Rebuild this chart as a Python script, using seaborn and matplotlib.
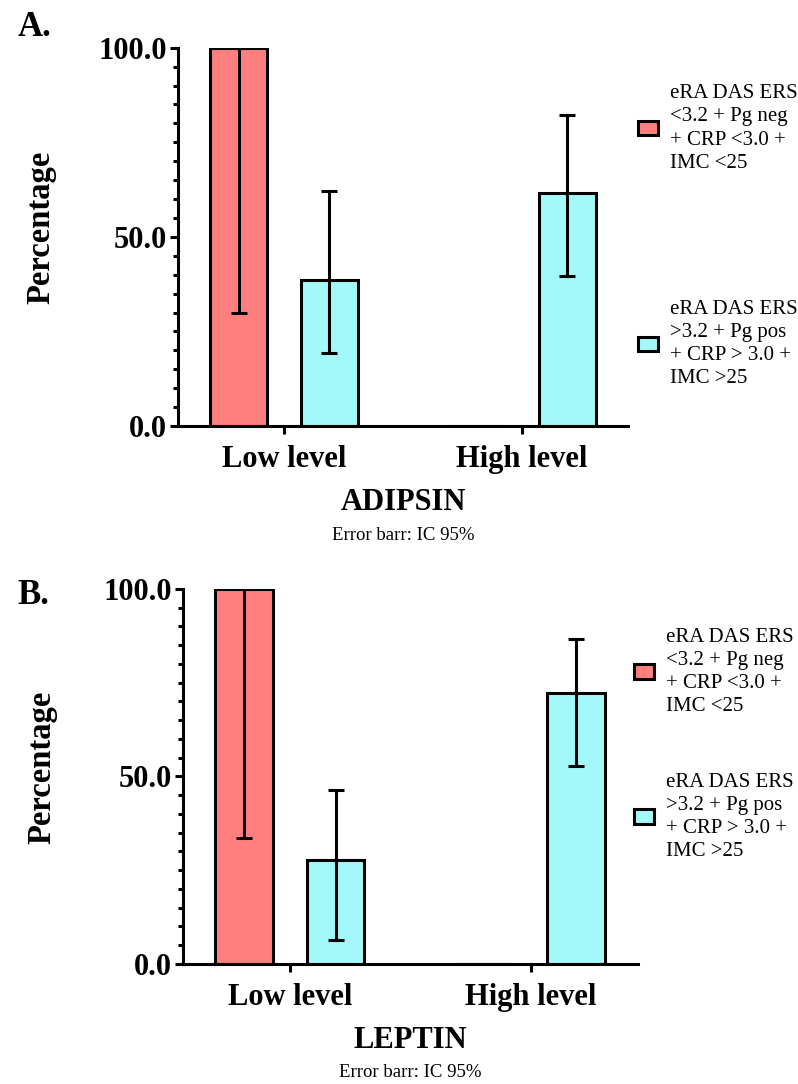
#!/usr/bin/env python3
"""
ADIPSIN / LEPTIN 百分比柱状图 (带 95% 置信区间误差线)
"""

import numpy as np
import pandas as pd
import matplotlib
matplotlib.use('Agg')
import matplotlib.pyplot as plt
from matplotlib.ticker import MultipleLocator, FormatStrFormatter
import seaborn as sns

# 数据
levels = ['Low level', 'High level']
groups = [
    'eRA DAS ERS\n<3.2 + Pg neg\n+ CRP <3.0 +\nIMC <25',
    'eRA DAS ERS\n>3.2 + Pg pos\n+ CRP > 3.0 +\nIMC >25',
]

adipsin_g1 = [100.0, 0.0]
adipsin_g2 = [38.5, 61.5]
adipsin_g1_ci_low = [30.0, np.nan]
adipsin_g1_ci_high = [100.0, np.nan]
adipsin_g2_ci_low = [19.3, 39.7]
adipsin_g2_ci_high = [62.0, 82.3]

leptin_g1 = [100.0, 0.0]
leptin_g2 = [27.8, 72.2]
leptin_g1_ci_low = [33.6, np.nan]
leptin_g1_ci_high = [100.0, np.nan]
leptin_g2_ci_low = [6.4, 52.8]
leptin_g2_ci_high = [46.4, 86.7]

# 配色 / 字体
COLORS = ['#FF7F7F', '#A3F9F9']
LW = 2.2
SERIF = ['Liberation Serif', 'DejaVu Serif']

sns.set_style('white')
plt.rcParams['font.family'] = SERIF
plt.rcParams['font.serif'] = SERIF
for key in ['text.color', 'axes.labelcolor', 'xtick.color', 'ytick.color',
            'axes.edgecolor']:
    plt.rcParams[key] = 'black'


def draw_panel(fig, rect, vals1, vals2, ci1, ci2, letter, letter_y, title,
               ylabel_x, legend_anchor, labelspacing):
    ax = fig.add_axes(rect)

    df = pd.DataFrame({
        'level': levels * 2,
        'group': [groups[0]] * 2 + [groups[1]] * 2,
        'pct': list(vals1) + list(vals2),
    })

    sns.barplot(
        data=df, x='level', y='pct', hue='group',
        order=levels, hue_order=groups,
        palette=COLORS, saturation=1,
        errorbar=None, width=0.76, gap=0.37,
        edgecolor='black', linewidth=LW,
        legend=False, ax=ax
    )

    # 误差线 (IC 95%)
    for container, (lo, hi), vals in zip(ax.containers, [ci1, ci2], [vals1, vals2]):
        xs = [p.get_x() + p.get_width() / 2 for p in container.patches]
        vals = np.array(vals)
        lo = np.array(lo)
        hi = np.array(hi)
        ax.errorbar(
            xs, vals, yerr=[vals - lo, hi - vals],
            fmt='none', ecolor='black', elinewidth=LW,
            capsize=6, capthick=LW, zorder=5
        )

    ax.set_xlim(-0.445, 1.445)
    ax.set_ylim(0, 100)
    ax.yaxis.set_major_locator(MultipleLocator(50))
    ax.yaxis.set_minor_locator(MultipleLocator(5))
    ax.yaxis.set_major_formatter(FormatStrFormatter('%.1f'))

    for side in ['top', 'right']:
        ax.spines[side].set_visible(False)
    for side in ['left', 'bottom']:
        ax.spines[side].set_linewidth(LW)
        ax.spines[side].set_color('black')

    ax.tick_params(axis='y', which='major', direction='out', length=6,
                   width=LW, pad=2, labelsize=22, left=True)
    ax.tick_params(axis='y', which='minor', direction='out', length=3.6,
                   width=LW, left=True)
    ax.tick_params(axis='x', direction='out', length=6, width=LW, pad=8,
                   labelsize=22, bottom=True)
    for lab in ax.get_xticklabels() + ax.get_yticklabels():
        lab.set_fontweight('bold')
        lab.set_fontfamily(SERIF)

    ax.set_ylabel('Percentage', fontsize=23.5, fontweight='bold', family=SERIF)
    ax.yaxis.set_label_coords(ylabel_x, 0.525)
    ax.set_xlabel(title, fontsize=22, fontweight='bold',
                  labelpad=10, family=SERIF)
    ax.text(0.5, -0.29, 'Error barr: IC 95%', transform=ax.transAxes,
            ha='center', va='center', fontsize=13.5, family=SERIF)

    fig.text(0.022, letter_y, letter, fontsize=25,
             fontweight='bold', ha='left', va='center', family=SERIF)

    leg = ax.legend(
        ax.containers, groups,
        loc='center left', bbox_to_anchor=legend_anchor,
        bbox_transform=fig.transFigure, frameon=False,
        prop={'family': SERIF, 'size': 15},
        handlelength=0.95, handleheight=0.7,
        handletextpad=0.6, labelspacing=labelspacing,
        borderpad=0, borderaxespad=0
    )
    for t in leg.get_texts():
        t.set_linespacing(1.3)
    return ax


fig = plt.figure(figsize=(7.98, 10.84), dpi=100)

draw_panel(
    fig, [0.223, 0.607, 0.564, 0.349],
    adipsin_g1, adipsin_g2,
    (adipsin_g1_ci_low, adipsin_g1_ci_high),
    (adipsin_g2_ci_low, adipsin_g2_ci_high),
    'A.', 0.975, 'ADIPSIN', -0.27, (0.7995, 0.782), 6.1
)

draw_panel(
    fig, [0.229, 0.1107, 0.570, 0.346],
    leptin_g1, leptin_g2,
    (leptin_g1_ci_low, leptin_g1_ci_high),
    (leptin_g2_ci_low, leptin_g2_ci_high),
    'B.', 0.451, 'LEPTIN', -0.275, (0.7945, 0.3132), 2.7
)

fig.savefig('out.png', dpi=100)
plt.close(fig)
